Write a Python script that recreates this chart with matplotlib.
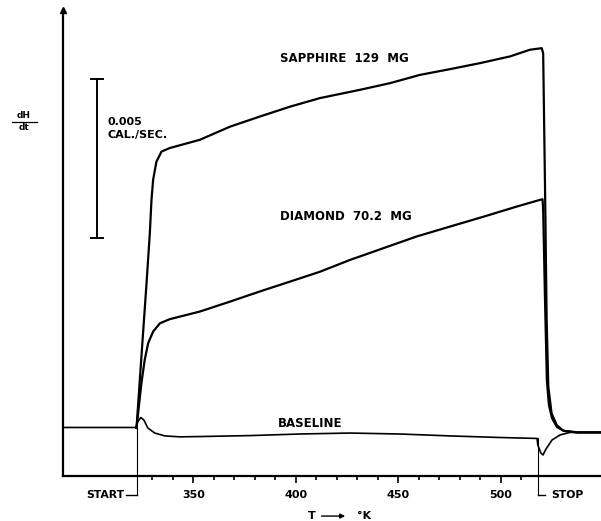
"""
Recreate the DSC trace: dH/dt vs temperature for sapphire, diamond and baseline.
Saves out.png (601x521).
"""

import matplotlib.pyplot as plt

# ─── Data ────────────────────────────────────────────────────────────────────
# temperature in K, dH/dt in mcal/sec (arbitrary zero)
sapphire_T = [322.3, 325.5, 327.2, 328.8, 329.6, 330.4, 332.0, 334.5, 338.5,
              353.2, 367.8, 382.4, 397.1, 411.7, 431.2, 445.9,
              460.5, 475.1, 489.8, 504.4, 514.1, 519.9, 520.6, 521.5, 522.3,
              523.1, 524.7, 527.2, 530.4, 536.9, 548.8]
sapphire_H = [1.51, 4.50, 6.07, 7.64, 8.68, 9.31, 9.88, 10.20, 10.31,
              10.57, 10.98, 11.30, 11.61, 11.88, 12.14, 12.35,
              12.61, 12.79, 12.98, 13.19, 13.40, 13.45, 13.29, 9.10, 4.91,
              2.81, 1.97, 1.60, 1.42, 1.37, 1.37]

diamond_T = [322.3, 323.1, 324.7, 326.3, 328.0, 330.4, 333.7, 338.5,
             353.2, 367.8, 382.4, 397.1, 411.7, 426.3, 442.6, 458.9,
             475.1, 491.4, 507.7, 519.0, 520.3, 520.6, 521.5, 522.4, 523.4,
             524.9, 527.3, 530.7, 537.6, 548.8]
diamond_H = [1.51, 1.98, 2.92, 3.65, 4.18, 4.54, 4.80, 4.93,
             5.17, 5.48, 5.80, 6.11, 6.42, 6.79, 7.16, 7.53,
             7.84, 8.15, 8.47, 8.68, 8.70, 8.36, 5.53, 3.02, 2.23,
             1.82, 1.54, 1.42, 1.37, 1.37]

baseline_T = [286.3, 322.0, 322.9, 324.4, 325.9, 327.8, 331.2, 336.1, 343.4,
              353.2, 377.6, 402.0, 426.3, 450.6, 475.1, 499.5, 517.6, 518.0,
              519.5, 520.5, 522.0, 524.9, 528.8, 533.7, 548.8]
baseline_H = [1.525, 1.525, 1.70, 1.84, 1.76, 1.51, 1.35, 1.26, 1.23,
              1.24, 1.27, 1.32, 1.35, 1.32, 1.26, 1.21, 1.18, 0.97,
              0.72, 0.66, 0.85, 1.13, 1.29, 1.37, 1.37]

t_start = 322.4
t_stop = 517.9
major_ticks = [350, 400, 450, 500]
minor_ticks = [330, 340, 360, 370, 380, 390, 410, 420, 430, 440,
               460, 470, 480, 490, 510]
scale_bar = (7.48, 12.48)   # 0.005 cal/sec

# ─── Figure ──────────────────────────────────────────────────────────────────
fig = plt.figure(figsize=(6.01, 5.21), dpi=100)
ax = fig.add_axes([0.1043, 0.0864, 0.8957, 0.8944])

txt = dict(color="black", fontweight="bold", family="DejaVu Sans")

ax.plot(sapphire_T, sapphire_H, color="black", linewidth=1.6, zorder=3)
ax.plot(diamond_T, diamond_H, color="black", linewidth=1.6, zorder=3)
ax.plot(baseline_T, baseline_H, color="black", linewidth=1.2, zorder=3)

ax.set_xlim(286.3, 548.8)
ax.set_ylim(0, 14.65)

# start / stop markers, drawn below the axis
y_mark = -0.60
ax.plot([t_start, t_start], [1.52, y_mark], color="black", lw=0.8, clip_on=False)
ax.plot([317.1, t_start], [y_mark, y_mark], color="black", lw=1.0, clip_on=False)
ax.plot([t_stop, t_stop], [1.18, y_mark], color="black", lw=0.8, clip_on=False)
ax.plot([t_stop, 521.5], [y_mark, y_mark], color="black", lw=1.0, clip_on=False)
ax.text(316.6, y_mark, "START", ha="right", va="center", fontsize=7.8, **txt)
ax.text(524.7, y_mark, "STOP", ha="left", va="center", fontsize=7.8, **txt)

# scale bar
ax.plot([302.8, 302.8], scale_bar, color="black", lw=1.4)
for yb in scale_bar:
    ax.plot([300.3, 306.0], [yb, yb], color="black", lw=1.4)
ax.text(308.3, 11.14, "0.005", ha="left", va="center", fontsize=8, **txt)
ax.text(308.3, 10.72, "CAL./SEC.", ha="left", va="center", fontsize=8, **txt)

# curve labels
ax.text(392.2, 13.13, "SAPPHIRE  129  MG", ha="left", va="center", fontsize=8.5, **txt)
ax.text(392.2, 8.15, "DIAMOND  70.2  MG", ha="left", va="center", fontsize=8.5, **txt)
ax.text(391.2, 1.66, "BASELINE", ha="left", va="center", fontsize=8.5, **txt)

# axis label  T ---> °K
ax.text(405.9, -1.26, "T", ha="left", va="center", fontsize=8, **txt)
ax.annotate("", xy=(425.4, -1.26), xytext=(411.2, -1.26),
            arrowprops=dict(arrowstyle="-|>", color="black", lw=1.0,
                            mutation_scale=7),
            annotation_clip=False)
ax.text(429.8, -1.26, "°K", ha="left", va="center", fontsize=8, **txt)

# dH/dt fraction
fig.text(0.04, 0.779, "dH", ha="center", va="center", fontsize=6.5, **txt)
fig.text(0.04, 0.755, "dt", ha="center", va="center", fontsize=6.5, **txt)
fig.add_artist(plt.Line2D([0.02, 0.062], [0.766, 0.766], color="black", lw=0.9))

# axes styling
for side in ["top", "right"]:
    ax.spines[side].set_visible(False)
ax.spines["left"].set_linewidth(1.6)
ax.spines["bottom"].set_linewidth(1.6)
ax.plot([286.3], [14.65], marker="^", color="black", markersize=4, clip_on=False)

ax.set_yticks([])
ax.set_xticks(major_ticks)
ax.set_xticks(minor_ticks, minor=True)
ax.set_xticklabels([str(t) for t in major_ticks])
ax.tick_params(axis="x", which="major", direction="out", length=5, width=1.2,
               pad=5, labelsize=8)
ax.tick_params(axis="x", which="minor", direction="out", length=3, width=1.2)
for lab in ax.get_xticklabels():
    lab.set_fontweight("bold")

fig.savefig("out.png", dpi=100, facecolor="white")
plt.close(fig)
